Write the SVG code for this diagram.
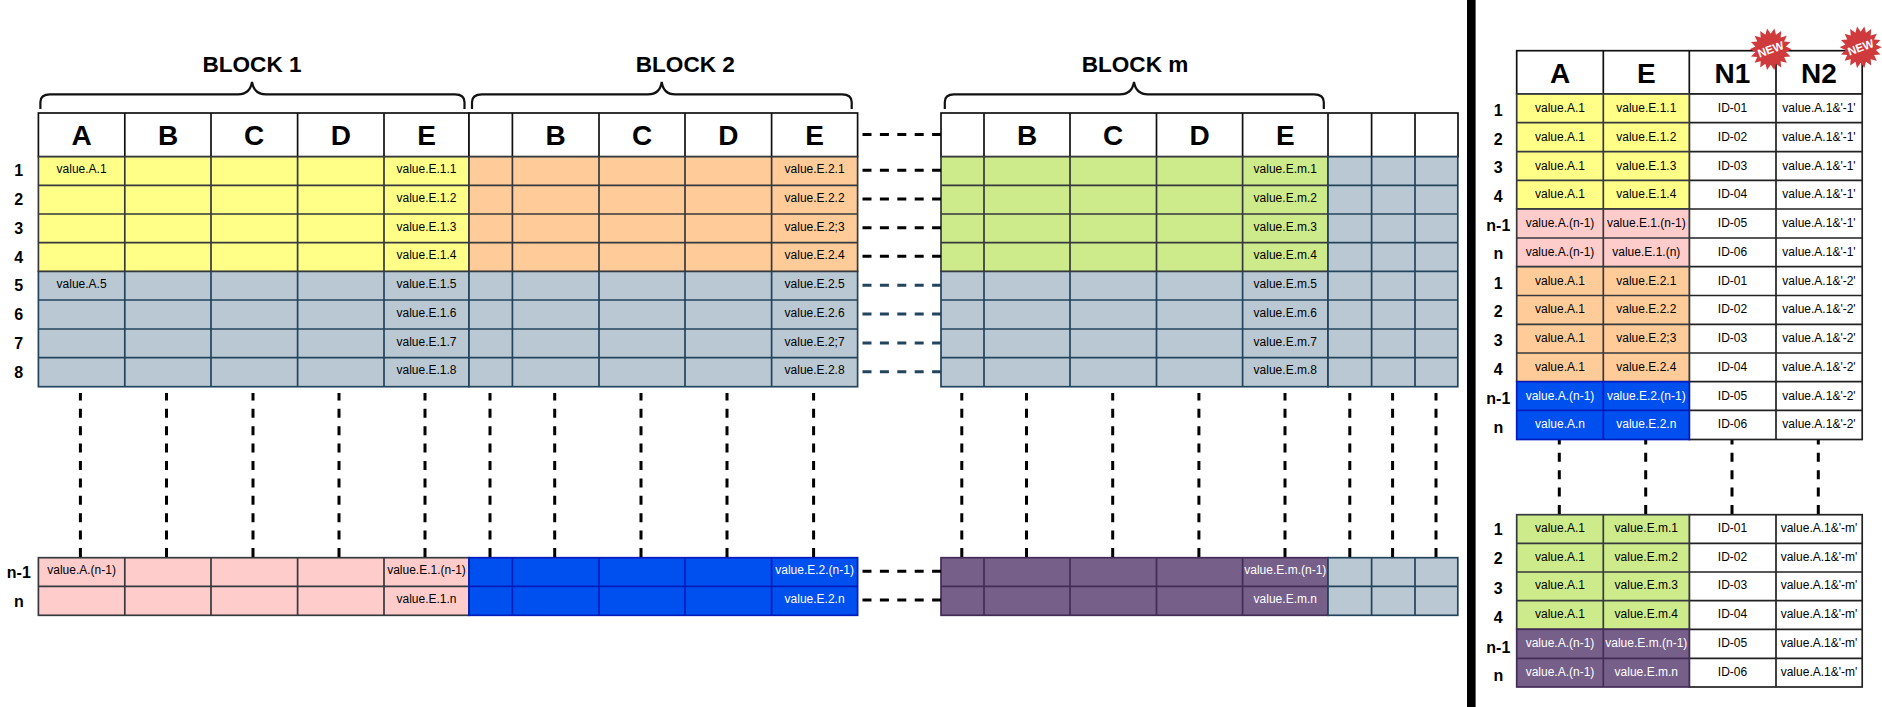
<svg xmlns="http://www.w3.org/2000/svg" width="1882" height="707" viewBox="0 0 1882 707">
<style>
text{font-family:"Liberation Sans",Arial,sans-serif;text-anchor:middle;fill:#000}
.v{font-size:12px}.w text,text.w{fill:#fff}
.h{font-size:28px;font-weight:bold}.r{font-size:16px;font-weight:bold}.t{font-size:22.6px;font-weight:bold}
.n{font-size:11.5px;font-weight:bold;fill:#fff}
.c{stroke-width:1.7}
.hd{fill:#fff;stroke:#111}.wh{fill:#fff;stroke:#222}
.yl{fill:#ffff88;stroke:#36393d}.or{fill:#ffcc99;stroke:#36393d}.gn{fill:#cdeb8b;stroke:#36393d}.pk{fill:#ffcccc;stroke:#36393d}
.gy{fill:#bac8d3;stroke:#23445d}.bl{fill:#0050ef;stroke:#001dbc}.pu{fill:#76608a;stroke:#432d57}
.g{fill:none}
.d{fill:none;stroke:#000;stroke-width:3;stroke-dasharray:9 8.4}
.ds{fill:none;stroke:#23445d;stroke-width:3;stroke-dasharray:9 8.4}
.b{fill:none;stroke:#111;stroke-width:2.2}
</style>
<defs>
<polygon id="burst" fill="#cf3a3c" points="21,0 15.26,2.69 19.73,7.18 13.42,7.75 16.09,13.5 9.96,11.87 10.5,18.19 5.3,14.57 3.65,20.68 0,15.5 -3.65,20.68 -5.3,14.57 -10.5,18.19 -9.96,11.87 -16.09,13.5 -13.42,7.75 -19.73,7.18 -15.26,2.69 -21,0 -15.26,-2.69 -19.73,-7.18 -13.42,-7.75 -16.09,-13.5 -9.96,-11.87 -10.5,-18.19 -5.3,-14.57 -3.65,-20.68 0,-15.5 3.65,-20.68 5.3,-14.57 10.5,-18.19 9.96,-11.87 16.09,-13.5 13.42,-7.75 19.73,-7.18 15.26,-2.69"/>
</defs>
<rect width="1882" height="707" fill="#fff"/>
<g id="divider"><rect x="1467" y="0" width="8.6" height="707" fill="#000"/></g>

<g id="block-titles">
<text class="t" x="252" y="72">BLOCK 1</text>
<text class="t" x="685.3" y="72">BLOCK 2</text>
<text class="t" x="1135" y="72">BLOCK m</text>
</g>
<g id="braces">
<path class="b" d="M40.4 109V102Q40.4 94.3 50 94.3H238Q250 94.3 252 82Q254 94.3 266 94.3H455Q464.5 94.3 464.5 102V109"/>
<path class="b" d="M472 109V102Q472 94.3 482 94.3H648Q660 94.3 661.7 82Q663.5 94.3 675 94.3H842Q851.7 94.3 851.7 102V109"/>
<path class="b" d="M944.8 109V102Q944.8 94.3 954 94.3H1120Q1132 94.3 1134 82Q1136 94.3 1148 94.3H1314Q1323.8 94.3 1323.8 102V109"/>
</g>

<g id="block1" class="c">
<g id="block1-header"><rect class="hd" x="38.4" y="113" width="430.6" height="43.7"/><path class="hd g" d="M124.8 113V156.7M211 113V156.7M297.6 113V156.7M384 113V156.7"/>
<text class="h" x="81.6" y="144.6">A</text><text class="h" x="168" y="144.6">B</text><text class="h" x="254" y="144.6">C</text><text class="h" x="340.8" y="144.6">D</text><text class="h" x="426.5" y="144.6">E</text></g>
<g id="block1-grey"><rect class="gy" x="38.4" y="271.3" width="430.6" height="115.4"/><path class="gy g" d="M124.8 271.3V386.7M211 271.3V386.7M297.6 271.3V386.7M384 271.3V386.7M38.4 300H469M38.4 329H469M38.4 357.7H469"/>
<text class="v" x="81.6" y="288">value.A.5</text><text class="v" x="426.5" y="288">value.E.1.5</text><text class="v" x="426.5" y="317">value.E.1.6</text><text class="v" x="426.5" y="346">value.E.1.7</text><text class="v" x="426.5" y="374">value.E.1.8</text></g>
<g id="block1-yellow"><rect class="yl" x="38.4" y="156.7" width="430.6" height="114.6"/><path class="yl g" d="M124.8 156.7V271.3M211 156.7V271.3M297.6 156.7V271.3M384 156.7V271.3M38.4 185.3H469M38.4 214H469M38.4 242.7H469"/>
<text class="v" x="81.6" y="173">value.A.1</text><text class="v" x="426.5" y="173">value.E.1.1</text><text class="v" x="426.5" y="202">value.E.1.2</text><text class="v" x="426.5" y="231">value.E.1.3</text><text class="v" x="426.5" y="259">value.E.1.4</text></g>
<g id="block1-pink"><rect class="pk" x="38.4" y="557.7" width="430.6" height="57.6"/><path class="pk g" d="M124.8 557.7V615.3M211 557.7V615.3M297.6 557.7V615.3M384 557.7V615.3M38.4 586.3H469"/>
<text class="v" x="81.6" y="574">value.A.(n-1)</text><text class="v" x="426.5" y="574">value.E.1.(n-1)</text><text class="v" x="426.5" y="603">value.E.1.n</text></g>
</g>

<g id="block2" class="c">
<g id="block2-header"><rect class="hd" x="469" y="113" width="388.6" height="43.7"/><path class="hd g" d="M512.4 113V156.7M599 113V156.7M685 113V156.7M771.6 113V156.7"/>
<text class="h" x="555.7" y="144.6">B</text><text class="h" x="642" y="144.6">C</text><text class="h" x="728.3" y="144.6">D</text><text class="h" x="814.6" y="144.6">E</text></g>
<g id="block2-grey"><rect class="gy" x="469" y="271.3" width="388.6" height="115.4"/><path class="gy g" d="M512.4 271.3V386.7M599 271.3V386.7M685 271.3V386.7M771.6 271.3V386.7M469 300H857.6M469 329H857.6M469 357.7H857.6"/>
<text class="v" x="814.6" y="288">value.E.2.5</text><text class="v" x="814.6" y="317">value.E.2.6</text><text class="v" x="814.6" y="346">value.E.2;7</text><text class="v" x="814.6" y="374">value.E.2.8</text></g>
<g id="block2-orange"><rect class="or" x="469" y="156.7" width="388.6" height="114.6"/><path class="or g" d="M512.4 156.7V271.3M599 156.7V271.3M685 156.7V271.3M771.6 156.7V271.3M469 185.3H857.6M469 214H857.6M469 242.7H857.6"/>
<text class="v" x="814.6" y="173">value.E.2.1</text><text class="v" x="814.6" y="202">value.E.2.2</text><text class="v" x="814.6" y="231">value.E.2;3</text><text class="v" x="814.6" y="259">value.E.2.4</text></g>
<g id="block2-blue" class="w"><rect class="bl" x="469" y="557.7" width="388.6" height="57.6"/><path class="bl g" d="M512.4 557.7V615.3M599 557.7V615.3M685 557.7V615.3M771.6 557.7V615.3M469 586.3H857.6"/>
<text class="v" x="814.6" y="574">value.E.2.(n-1)</text><text class="v" x="814.6" y="603">value.E.2.n</text></g>
</g>

<g id="blockm" class="c">
<g id="blockm-header"><rect class="hd" x="941" y="113" width="517" height="43.7"/><path class="hd g" d="M984 113V156.7M1070 113V156.7M1156.5 113V156.7M1242.6 113V156.7M1328 113V156.7M1371.6 113V156.7M1415 113V156.7"/>
<text class="h" x="1027" y="144.6">B</text><text class="h" x="1113" y="144.6">C</text><text class="h" x="1199.5" y="144.6">D</text><text class="h" x="1285.3" y="144.6">E</text></g>
<g id="blockm-grey"><rect class="gy" x="941" y="271.3" width="387" height="115.4"/><path class="gy g" d="M984 271.3V386.7M1070 271.3V386.7M1156.5 271.3V386.7M1242.6 271.3V386.7M941 300H1328M941 329H1328M941 357.7H1328"/>
<text class="v" x="1285.3" y="288">value.E.m.5</text><text class="v" x="1285.3" y="317">value.E.m.6</text><text class="v" x="1285.3" y="346">value.E.m.7</text><text class="v" x="1285.3" y="374">value.E.m.8</text></g>
<g id="blockm-green"><rect class="gn" x="941" y="156.7" width="387" height="114.6"/><path class="gn g" d="M984 156.7V271.3M1070 156.7V271.3M1156.5 156.7V271.3M1242.6 156.7V271.3M941 185.3H1328M941 214H1328M941 242.7H1328"/>
<text class="v" x="1285.3" y="173">value.E.m.1</text><text class="v" x="1285.3" y="202">value.E.m.2</text><text class="v" x="1285.3" y="231">value.E.m.3</text><text class="v" x="1285.3" y="259">value.E.m.4</text></g>
<g id="blockm-purple" class="w"><rect class="pu" x="941" y="557.7" width="387" height="57.6"/><path class="pu g" d="M984 557.7V615.3M1070 557.7V615.3M1156.5 557.7V615.3M1242.6 557.7V615.3M941 586.3H1328"/>
<text class="v" x="1285.3" y="574">value.E.m.(n-1)</text><text class="v" x="1285.3" y="603">value.E.m.n</text></g>
<g id="trail-grey-top"><rect class="gy" x="1328" y="156.7" width="129.8" height="230"/><path class="gy g" d="M1371.6 156.7V386.7M1415 156.7V386.7M1328 185.3H1457.8M1328 214H1457.8M1328 242.7H1457.8M1328 271.3H1457.8M1328 300H1457.8M1328 329H1457.8M1328 357.7H1457.8"/></g>
<g id="trail-grey-bottom"><rect class="gy" x="1328" y="557.7" width="129.8" height="57.6"/><path class="gy g" d="M1371.6 557.7V615.3M1415 557.7V615.3M1328 586.3H1457.8"/></g>
</g>

<g id="row-labels-left">
<text class="r" x="18.8" y="176">1</text><text class="r" x="18.8" y="205">2</text><text class="r" x="18.8" y="234">3</text><text class="r" x="18.8" y="263">4</text><text class="r" x="18.8" y="291">5</text><text class="r" x="18.8" y="320">6</text><text class="r" x="18.8" y="349">7</text><text class="r" x="18.8" y="378">8</text><text class="r" x="18.8" y="577.5">n-1</text><text class="r" x="18.8" y="606.5">n</text>
</g>

<g id="connectors">
<path class="d" d="M862.5 134.5H941M862.5 170.3H941M862.5 199H941M862.5 227.7H941M862.5 256.3H941M862.5 571.3H941M862.5 600H941"/>
<path class="ds" d="M862.5 285.3H941M862.5 314H941M862.5 343H941M862.5 371.7H941"/>
<path class="d" d="M80.4 557V393M166.5 557V393M253 557V393M339 557V393M425 557V393M490 557V393M554.7 557V393M641 557V393M727 557V393M813.6 557V393M961.8 557V393M1026.5 557V393M1112.7 557V393M1198.9 557V393M1285 557V393M1349.8 557V393M1392.6 557V393M1436 557V393"/>
<path class="d" d="M1559.3 514V440M1645.7 514V440M1732 514V440M1818.3 514V440"/>
</g>

<g id="result-table-top" class="c">
<g id="rt1-header"><rect class="hd" x="1516.7" y="50.7" width="345.5" height="43.3"/><path class="hd g" d="M1603.3 50.7V94M1689.3 50.7V94M1776 50.7V94"/>
<text class="h" x="1560" y="82.5">A</text><text class="h" x="1646.3" y="82.5">E</text><text class="h" x="1732.5" y="82.5">N1</text><text class="h" x="1819" y="82.5">N2</text></g>
<g id="rt1-white"><rect class="wh" x="1689.3" y="94" width="172.9" height="345.5"/><path class="wh g" d="M1776 94V439.5M1689.3 122.7H1862.2M1689.3 151.6H1862.2M1689.3 180.3H1862.2M1689.3 209H1862.2M1689.3 238H1862.2M1689.3 266.7H1862.2M1689.3 295.5H1862.2M1689.3 324.3H1862.2M1689.3 353H1862.2M1689.3 381.7H1862.2M1689.3 410.4H1862.2"/>
<text class="v" x="1732.5" y="112">ID-01</text><text class="v" x="1819" y="112">value.A.1&amp;'-1'</text>
<text class="v" x="1732.5" y="141">ID-02</text><text class="v" x="1819" y="141">value.A.1&amp;'-1'</text>
<text class="v" x="1732.5" y="170">ID-03</text><text class="v" x="1819" y="170">value.A.1&amp;'-1'</text>
<text class="v" x="1732.5" y="198">ID-04</text><text class="v" x="1819" y="198">value.A.1&amp;'-1'</text>
<text class="v" x="1732.5" y="227">ID-05</text><text class="v" x="1819" y="227">value.A.1&amp;'-1'</text>
<text class="v" x="1732.5" y="256">ID-06</text><text class="v" x="1819" y="256">value.A.1&amp;'-1'</text>
<text class="v" x="1732.5" y="285">ID-01</text><text class="v" x="1819" y="285">value.A.1&amp;'-2'</text>
<text class="v" x="1732.5" y="313">ID-02</text><text class="v" x="1819" y="313">value.A.1&amp;'-2'</text>
<text class="v" x="1732.5" y="342">ID-03</text><text class="v" x="1819" y="342">value.A.1&amp;'-2'</text>
<text class="v" x="1732.5" y="371">ID-04</text><text class="v" x="1819" y="371">value.A.1&amp;'-2'</text>
<text class="v" x="1732.5" y="400">ID-05</text><text class="v" x="1819" y="400">value.A.1&amp;'-2'</text>
<text class="v" x="1732.5" y="428">ID-06</text><text class="v" x="1819" y="428">value.A.1&amp;'-2'</text></g>
<g id="rt1-yellow"><rect class="yl" x="1516.7" y="94" width="172.6" height="115"/><path class="yl g" d="M1603.3 94V209M1516.7 122.7H1689.3M1516.7 151.6H1689.3M1516.7 180.3H1689.3"/>
<text class="v" x="1560" y="112">value.A.1</text><text class="v" x="1646.3" y="112">value.E.1.1</text>
<text class="v" x="1560" y="141">value.A.1</text><text class="v" x="1646.3" y="141">value.E.1.2</text>
<text class="v" x="1560" y="170">value.A.1</text><text class="v" x="1646.3" y="170">value.E.1.3</text>
<text class="v" x="1560" y="198">value.A.1</text><text class="v" x="1646.3" y="198">value.E.1.4</text></g>
<g id="rt1-pink"><rect class="pk" x="1516.7" y="209" width="172.6" height="57.7"/><path class="pk g" d="M1603.3 209V266.7M1516.7 238H1689.3"/>
<text class="v" x="1560" y="227">value.A.(n-1)</text><text class="v" x="1646.3" y="227">value.E.1.(n-1)</text>
<text class="v" x="1560" y="256">value.A.(n-1)</text><text class="v" x="1646.3" y="256">value.E.1.(n)</text></g>
<g id="rt1-orange"><rect class="or" x="1516.7" y="266.7" width="172.6" height="115"/><path class="or g" d="M1603.3 266.7V381.7M1516.7 295.5H1689.3M1516.7 324.3H1689.3M1516.7 353H1689.3"/>
<text class="v" x="1560" y="285">value.A.1</text><text class="v" x="1646.3" y="285">value.E.2.1</text>
<text class="v" x="1560" y="313">value.A.1</text><text class="v" x="1646.3" y="313">value.E.2.2</text>
<text class="v" x="1560" y="342">value.A.1</text><text class="v" x="1646.3" y="342">value.E.2;3</text>
<text class="v" x="1560" y="371">value.A.1</text><text class="v" x="1646.3" y="371">value.E.2.4</text></g>
<g id="rt1-blue" class="w"><rect class="bl" x="1516.7" y="381.7" width="172.6" height="57.8"/><path class="bl g" d="M1603.3 381.7V439.5M1516.7 410.4H1689.3"/>
<text class="v" x="1560" y="400">value.A.(n-1)</text><text class="v" x="1646.3" y="400">value.E.2.(n-1)</text>
<text class="v" x="1560" y="428">value.A.n</text><text class="v" x="1646.3" y="428">value.E.2.n</text></g>
</g>

<g id="row-labels-top">
<text class="r" x="1498.3" y="116">1</text><text class="r" x="1498.3" y="144.5">2</text><text class="r" x="1498.3" y="173">3</text><text class="r" x="1498.3" y="202">4</text><text class="r" x="1498.3" y="231">n-1</text><text class="r" x="1498.3" y="259">n</text><text class="r" x="1498.3" y="288.5">1</text><text class="r" x="1498.3" y="317">2</text><text class="r" x="1498.3" y="346">3</text><text class="r" x="1498.3" y="375">4</text><text class="r" x="1498.3" y="404">n-1</text><text class="r" x="1498.3" y="433">n</text>
</g>

<g id="result-table-bottom" class="c">
<g id="rt2-white"><rect class="wh" x="1689.3" y="514.7" width="172.9" height="172.3"/><path class="wh g" d="M1776 514.7V687M1689.3 543.3H1862.2M1689.3 572H1862.2M1689.3 600.7H1862.2M1689.3 629.3H1862.2M1689.3 658.3H1862.2"/>
<text class="v" x="1732.5" y="532">ID-01</text><text class="v" x="1819" y="532">value.A.1&amp;'-m'</text>
<text class="v" x="1732.5" y="561">ID-02</text><text class="v" x="1819" y="561">value.A.1&amp;'-m'</text>
<text class="v" x="1732.5" y="589">ID-03</text><text class="v" x="1819" y="589">value.A.1&amp;'-m'</text>
<text class="v" x="1732.5" y="618">ID-04</text><text class="v" x="1819" y="618">value.A.1&amp;'-m'</text>
<text class="v" x="1732.5" y="647">ID-05</text><text class="v" x="1819" y="647">value.A.1&amp;'-m'</text>
<text class="v" x="1732.5" y="676">ID-06</text><text class="v" x="1819" y="676">value.A.1&amp;'-m'</text></g>
<g id="rt2-green"><rect class="gn" x="1516.7" y="514.7" width="172.6" height="114.6"/><path class="gn g" d="M1603.3 514.7V629.3M1516.7 543.3H1689.3M1516.7 572H1689.3M1516.7 600.7H1689.3"/>
<text class="v" x="1560" y="532">value.A.1</text><text class="v" x="1646.3" y="532">value.E.m.1</text>
<text class="v" x="1560" y="561">value.A.1</text><text class="v" x="1646.3" y="561">value.E.m.2</text>
<text class="v" x="1560" y="589">value.A.1</text><text class="v" x="1646.3" y="589">value.E.m.3</text>
<text class="v" x="1560" y="618">value.A.1</text><text class="v" x="1646.3" y="618">value.E.m.4</text></g>
<g id="rt2-purple" class="w"><rect class="pu" x="1516.7" y="629.3" width="172.6" height="57.7"/><path class="pu g" d="M1603.3 629.3V687M1516.7 658.3H1689.3"/>
<text class="v" x="1560" y="647">value.A.(n-1)</text><text class="v" x="1646.3" y="647">value.E.m.(n-1)</text>
<text class="v" x="1560" y="676">value.A.(n-1)</text><text class="v" x="1646.3" y="676">value.E.m.n</text></g>
</g>

<g id="row-labels-bottom">
<text class="r" x="1498.3" y="534.7">1</text><text class="r" x="1498.3" y="563.5">2</text><text class="r" x="1498.3" y="594">3</text><text class="r" x="1498.3" y="623">4</text><text class="r" x="1498.3" y="653">n-1</text><text class="r" x="1498.3" y="681">n</text>
</g>

<g id="new-badge-1" transform="translate(1770.7 49.3) rotate(-20)"><use href="#burst"/><text class="n" x="0" y="4">NEW</text></g>
<g id="new-badge-2" transform="translate(1860.7 47.3) rotate(-20)"><use href="#burst"/><text class="n" x="0" y="4">NEW</text></g>
</svg>
